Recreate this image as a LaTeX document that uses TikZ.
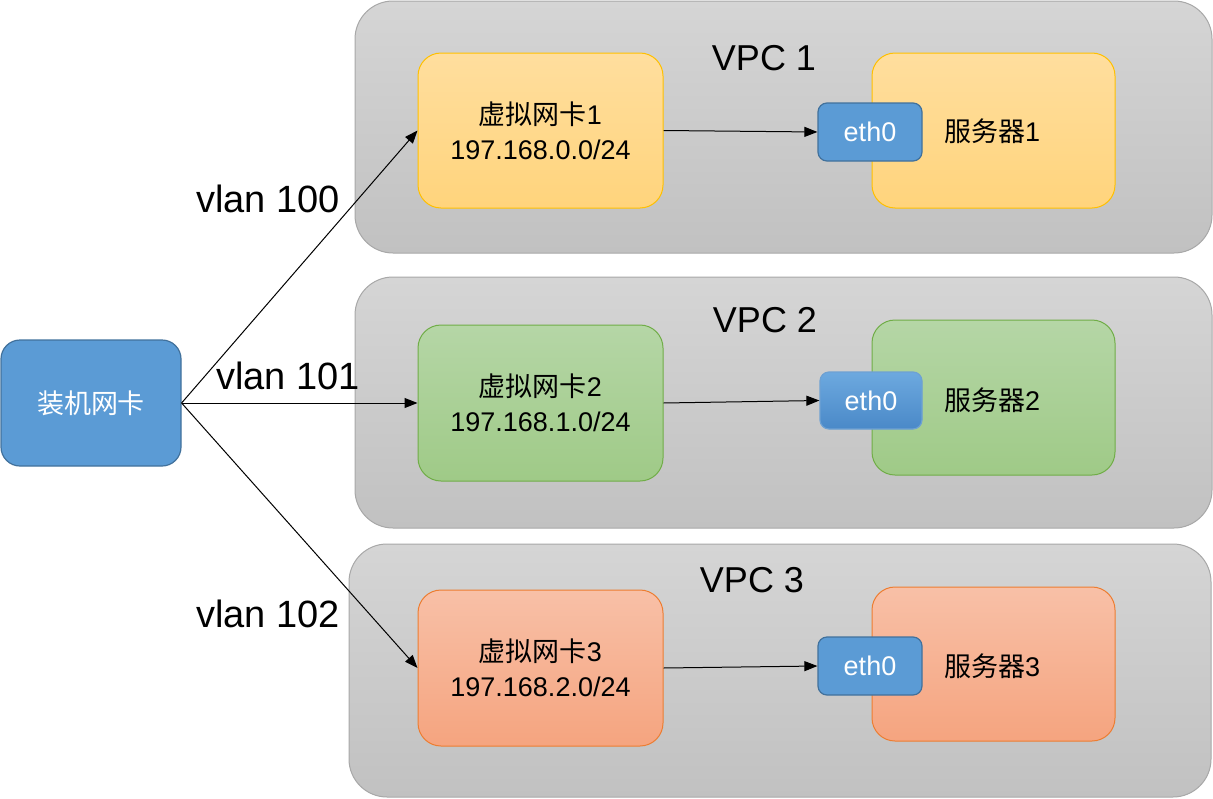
\documentclass[tikz,border=0pt]{standalone}
\usepackage{fontspec}
\setmainfont{Liberation Sans}
\newfontfamily\cjk{Noto Sans CJK SC}
\usetikzlibrary{arrows.meta}
\definecolor{vpctop}{HTML}{D5D5D5}
\definecolor{vpcbot}{HTML}{C1C1C1}
\definecolor{vpcline}{HTML}{A8A8A8}
\definecolor{ylwtop}{HTML}{FFDE9E}
\definecolor{ylwbot}{HTML}{FFD47C}
\definecolor{ylwline}{HTML}{FFC000}
\definecolor{grntop}{HTML}{B5D6A6}
\definecolor{grnbot}{HTML}{9FCA87}
\definecolor{grnline}{HTML}{70AD47}
\definecolor{orgtop}{HTML}{F8C0A7}
\definecolor{orgbot}{HTML}{F5A47F}
\definecolor{orgline}{HTML}{ED7D31}
\definecolor{bluefill}{HTML}{5B9BD5}
\definecolor{blueline}{HTML}{41719C}
\definecolor{bluetop}{HTML}{6DA9DF}
\definecolor{bluebot}{HTML}{4A89C8}
\tikzset{
  vpcbox/.style={draw=vpcline, line width=1pt, top color=vpctop, bottom color=vpcbot,
    rounded corners=38pt, inner sep=0pt},
  nicbox/.style={line width=1pt, rounded corners=23pt, inner sep=0pt,
    minimum width=245pt, minimum height=155pt, align=center,
    font=\fontsize{27}{35}\selectfont},
  ylw/.style={draw=ylwline, top color=ylwtop, bottom color=ylwbot},
  grn/.style={draw=grnline, top color=grntop, bottom color=grnbot},
  org/.style={draw=orgline, top color=orgtop, bottom color=orgbot},
  ethbox/.style={draw=blueline, fill=bluefill, line width=1.2pt, rounded corners=9pt,
    inner sep=0pt, minimum width=104pt, minimum height=58pt, text=white,
    font=\fontsize{27}{35}\selectfont},
  vpclabel/.style={font=\fontsize{36}{40}\selectfont, inner sep=0pt},
  vlanlabel/.style={font=\fontsize{38}{40}\selectfont, inner sep=0pt},
  link/.style={draw=black, line width=1pt, -{Triangle[length=13pt,width=10pt]}},
}
\begin{document}
\begin{tikzpicture}[x=1pt,y=-1pt]
\useasboundingbox (0,0) rectangle (1213,798);
% VPC containers
\node[vpcbox, minimum width=857pt, minimum height=252pt] (vpc1) at (783.5,127) {};
\node[vpcbox, minimum width=857pt, minimum height=251pt] (vpc2) at (783.5,402.5) {};
\node[vpcbox, minimum width=862pt, minimum height=253pt] (vpc3) at (780,670.5) {};
\node[vpclabel] (vpc1l) at (764,58) {VPC 1};
\node[vpclabel] (vpc2l) at (765,320) {VPC 2};
\node[vpclabel] (vpc3l) at (752,580) {VPC 3};
% virtual NICs
\node[nicbox, ylw] (nic1) at (540.5,130.5) {{\cjk 虚拟网卡}1\\197.168.0.0/24};
\node[nicbox, grn, minimum height=156pt] (nic2) at (540.5,403) {{\cjk 虚拟网卡}2\\197.168.1.0/24};
\node[nicbox, org, minimum height=156pt] (nic3) at (540.5,668) {{\cjk 虚拟网卡}3\\197.168.2.0/24};
% servers
\node[nicbox, ylw, minimum width=243pt] (srv1) at (993.5,130.5) {};
\node[nicbox, grn, minimum width=243pt] (srv2) at (993.5,397.5) {};
\node[nicbox, org, minimum width=243pt, minimum height=154pt] (srv3) at (993.5,664) {};
\node[font=\fontsize{27}{35}\selectfont, inner sep=0pt] (srv1t) at (992,131) {{\cjk 服务器}1};
\node[font=\fontsize{27}{35}\selectfont, inner sep=0pt] (srv2t) at (992,400) {{\cjk 服务器}2};
\node[font=\fontsize{27}{35}\selectfont, inner sep=0pt] (srv3t) at (992,666) {{\cjk 服务器}3};
% eth0
\node[ethbox] (eth1) at (870,132) {eth0};
\node[ethbox, draw=bluebot!80!white, top color=bluetop, bottom color=bluebot, minimum width=102pt, minimum height=57pt] (eth2) at (871,400.5) {eth0};
\node[ethbox] (eth3) at (870,666) {eth0};
% host NIC
\node[draw=blueline, fill=bluefill, line width=1.2pt, rounded corners=19pt, inner sep=0pt,
  minimum width=180pt, minimum height=126pt, text=white, font=\fontsize{27}{35}\selectfont\cjk]
  (host) at (91,403) {装机网卡};
% connectors
\draw[link] (host.east) -- (nic1.west);
\draw[link] (host.east) -- (nic2.west);
\draw[link] (host.east) -- (nic3.west);
\draw[link] (nic1.east) -- (eth1.west);
\draw[link] (nic2.east) -- (eth2.west);
\draw[link] (nic3.east) -- (eth3.west);
% vlan labels
\node[vlanlabel] (v100) at (268,199) {vlan 100};
\node[vlanlabel] (v101) at (288,376) {vlan 101};
\node[vlanlabel] (v102) at (268,614) {vlan 102};
\end{tikzpicture}
\end{document}
